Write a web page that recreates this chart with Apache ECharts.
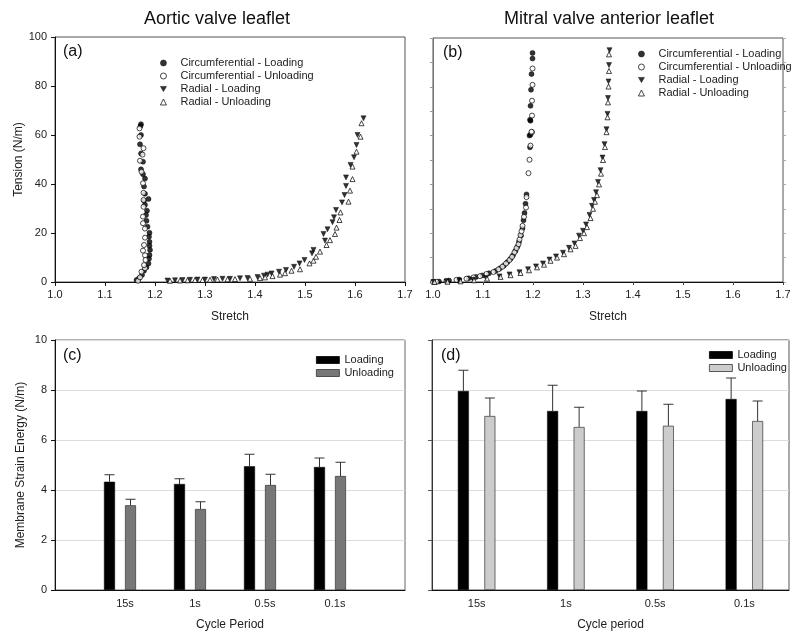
<!DOCTYPE html>
<html><head><meta charset="utf-8">
<script src="https://cdn.jsdelivr.net/npm/echarts@6/dist/echarts.min.js"></script>
<style>html,body{margin:0;padding:0;background:#fff}#c{width:800px;height:638px}</style>
</head><body><div id="c"></div>
<script>
// ---------- Panel (a): Aortic valve leaflet ----------
const aorticCircLoading = [[1.163,0.8],[1.168,1.5],[1.174,2.9],[1.178,4.6],[1.183,6.0],[1.187,7.6],[1.188,9.5],[1.189,11.0],[1.190,13.1],[1.189,14.8],[1.189,16.4],[1.188,18.5],[1.189,20.1],[1.185,22.6],[1.183,25.0],[1.182,27.3],[1.184,29.1],[1.180,31.5],[1.178,33.2],[1.187,33.9],[1.180,36.0],[1.178,39.0],[1.180,42.2],[1.176,44.0],[1.172,46.0],[1.176,49.1],[1.172,52.5],[1.170,56.2],[1.172,60.0],[1.171,63.7],[1.172,64.4]];
const aorticCircUnloading = [[1.166,0.5],[1.170,1.9],[1.173,4.2],[1.180,5.6],[1.178,6.9],[1.181,9.0],[1.180,10.9],[1.176,12.8],[1.178,15.1],[1.180,18.1],[1.180,21.8],[1.176,24.0],[1.176,26.7],[1.177,30.7],[1.177,33.5],[1.177,36.4],[1.176,40.3],[1.173,45.0],[1.170,49.5],[1.175,52.0],[1.177,54.6],[1.169,59.3],[1.169,62.7]];
const aorticRadLoading = [[1.225,0.6],[1.240,0.7],[1.255,0.8],[1.270,0.9],[1.285,1.0],[1.300,1.0],[1.318,1.2],[1.335,1.3],[1.350,1.3],[1.370,1.5],[1.385,1.6],[1.405,2.0],[1.418,2.6],[1.425,3.0],[1.433,3.5],[1.448,4.2],[1.462,4.9],[1.478,6.2],[1.489,7.6],[1.499,9.0],[1.514,11.7],[1.517,13.1],[1.537,19.6],[1.540,16.9],[1.545,21.5],[1.555,24.4],[1.558,26.4],[1.562,29.4],[1.574,32.5],[1.579,35.5],[1.582,39.2],[1.582,42.7],[1.591,47.8],[1.598,50.9],[1.603,55.9],[1.605,60.0],[1.617,66.8]];
const aorticRadUnloading = [[1.230,0.5],[1.250,0.6],[1.265,0.7],[1.280,0.8],[1.295,0.8],[1.310,0.9],[1.325,1.0],[1.345,1.1],[1.360,1.2],[1.390,1.3],[1.410,1.6],[1.420,1.9],[1.435,2.4],[1.450,3.0],[1.460,3.6],[1.473,4.6],[1.490,5.2],[1.509,7.6],[1.517,8.7],[1.522,10.3],[1.530,12.4],[1.543,15.1],[1.550,17.1],[1.560,19.6],[1.563,22.2],[1.569,25.3],[1.571,28.4],[1.587,32.8],[1.590,37.3],[1.595,42.0],[1.595,47.1],[1.603,53.2],[1.611,59.3],[1.613,64.8]];

// ---------- Panel (b): Mitral valve anterior leaflet ----------
const mitralCircLoading = [[1.012,0.2],[1.032,0.6],[1.052,1.0],[1.071,1.5],[1.086,2.1],[1.099,2.7],[1.112,3.6],[1.125,4.5],[1.134,5.6],[1.142,6.8],[1.149,8.2],[1.155,9.5],[1.160,11.0],[1.165,12.8],[1.169,14.5],[1.172,16.5],[1.176,19.0],[1.179,22.0],[1.181,25.3],[1.183,28.3],[1.185,32.1],[1.187,35.9],[1.193,60.0],[1.194,55.2],[1.195,60.4],[1.195,66.1],[1.194,66.5],[1.195,72.2],[1.196,78.8],[1.197,85.2],[1.199,91.6],[1.199,93.9]];
const mitralCircUnloading = [[1.000,0.0],[1.007,0.1],[1.027,0.5],[1.047,0.9],[1.067,1.35],[1.081,1.9],[1.094,2.4],[1.107,3.3],[1.121,4.1],[1.131,5.2],[1.139,6.3],[1.146,7.6],[1.153,9.0],[1.158,10.3],[1.163,12.2],[1.167,13.9],[1.171,15.5],[1.173,17.4],[1.175,19.2],[1.177,20.8],[1.179,23.0],[1.182,26.7],[1.186,30.5],[1.187,34.8],[1.191,44.6],[1.193,50.1],[1.195,55.9],[1.198,61.4],[1.197,61.6],[1.198,68.2],[1.198,74.3],[1.199,80.8],[1.199,87.5]];
const mitralRadLoading = [[1.001,0.0],[1.027,0.2],[1.053,0.5],[1.080,0.9],[1.106,1.6],[1.133,2.3],[1.153,3.1],[1.173,4.0],[1.190,5.2],[1.206,6.4],[1.220,7.6],[1.233,9.2],[1.246,10.5],[1.260,12.0],[1.272,14.0],[1.283,15.8],[1.292,19.0],[1.300,21.0],[1.306,23.6],[1.313,27.5],[1.318,31.2],[1.322,33.6],[1.326,36.8],[1.330,41.0],[1.335,45.8],[1.339,51.0],[1.343,56.5],[1.347,62.6],[1.349,68.9],[1.350,75.4],[1.351,82.2],[1.352,88.9],[1.353,95.0]];
const mitralRadUnloading = [[1.003,0.0],[1.029,0.1],[1.055,0.3],[1.082,0.7],[1.108,1.4],[1.135,2.1],[1.155,2.8],[1.175,3.7],[1.192,4.8],[1.208,6.0],[1.222,7.1],[1.235,8.7],[1.248,10.0],[1.262,11.4],[1.275,13.4],[1.285,14.8],[1.294,18.0],[1.302,20.0],[1.308,22.5],[1.315,26.2],[1.320,30.0],[1.324,32.9],[1.328,35.6],[1.332,40.0],[1.336,44.4],[1.340,50.0],[1.344,55.3],[1.347,61.4],[1.349,67.5],[1.350,73.6],[1.351,80.1],[1.352,86.5],[1.352,93.3]];

// ---------- Panels (c),(d): Membrane strain energy ----------
const cycleLabels = ['15s', '1s', '0.5s', '0.1s'];
const aorticEnergyLoading = [4.33, 4.24, 4.95, 4.92];
const aorticEnergyLoadingSD = [0.28, 0.21, 0.48, 0.36];
const aorticEnergyUnloading = [3.39, 3.24, 4.20, 4.56];
const aorticEnergyUnloadingSD = [0.24, 0.29, 0.43, 0.55];
const mitralEnergyLoading = [7.96, 7.16, 7.16, 7.64];
const mitralEnergyLoadingSD = [0.83, 1.03, 0.80, 0.84];
const mitralEnergyUnloading = [6.96, 6.52, 6.57, 6.76];
const mitralEnergyUnloadingSD = [0.72, 0.79, 0.86, 0.80];

const scatterNames = ['Circumferential - Loading', 'Circumferential - Unloading', 'Radial - Loading', 'Radial - Unloading'];
const FONT = '"Liberation Sans", Arial, sans-serif';
const TXT = '#222';

const chart = echarts.init(document.getElementById('c'), null, {renderer: 'canvas'});

const DOWN_TRI = 'path://M0,0 L10,0 L5,8.66 Z';
const scatterStyles = [
  {symbol: 'circle', symbolSize: 5, symbolRotate: 0, icon: 'circle', itemStyle: {color: '#000', borderColor: '#000', borderWidth: 0.6}},
  {symbol: 'circle', symbolSize: 5, symbolRotate: 0, icon: 'circle', itemStyle: {color: '#fff', borderColor: '#000', borderWidth: 0.9}},
  {symbol: 'triangle', symbolSize: 5, symbolRotate: 180, icon: DOWN_TRI, itemStyle: {color: '#000', borderColor: '#000', borderWidth: 0.6}},
  {symbol: 'triangle', symbolSize: 5, symbolRotate: 0, icon: 'triangle', itemStyle: {color: '#fff', borderColor: '#000', borderWidth: 0.9}}
];
function scatterSet(xi, data4) {
  return data4.map((d, k) => ({
    type: 'scatter', name: scatterNames[k], xAxisIndex: xi, yAxisIndex: xi,
    data: d, silent: true, animation: false, symbolKeepAspect: true,
    symbol: scatterStyles[k].symbol, symbolSize: scatterStyles[k].symbolSize,
    symbolRotate: scatterStyles[k].symbolRotate, itemStyle: scatterStyles[k].itemStyle
  }));
}
function scatterLegend(left, top) {
  return {
    data: scatterNames.map((n, k) => ({name: n, icon: scatterStyles[k].icon, symbolRotate: 0,
      itemStyle: scatterStyles[k].itemStyle})),
    left: left, top: top, padding: 0, orient: 'vertical', itemWidth: 6, itemHeight: 6, itemGap: 1, selectedMode: false,
    symbolKeepAspect: true,
    textStyle: {color: TXT, fontSize: 11, fontFamily: FONT, lineHeight: 12, padding: [0, 0, 0, 9]}
  };
}

const padCats = [''].concat(cycleLabels).concat(['']);
function padded(arr) { return ['-'].concat(arr).concat(['-']); }

function errorBars(xi, yi, means, sds, offset, startIndex) {
  return {
    type: 'custom', xAxisIndex: xi, yAxisIndex: yi, silent: true, animation: false, z: 3,
    data: means.map((m, i) => [i + startIndex, m, m + sds[i]]),
    renderItem: function (params, api) {
      const base = api.coord([api.value(0), api.value(1)]);
      const top = api.coord([api.value(0), api.value(2)]);
      const cx = base[0] + offset;
      const st = {stroke: '#333', lineWidth: 1};
      return {type: 'group', children: [
        {type: 'line', shape: {x1: cx, y1: base[1], x2: cx, y2: top[1]}, style: st},
        {type: 'line', shape: {x1: cx - 5, y1: top[1], x2: cx + 5, y2: top[1]}, style: st}
      ]};
    }
  };
}

const axisLbl = {color: TXT, fontSize: 11, fontFamily: FONT};
const nameStyle = {color: TXT, fontSize: 12, fontFamily: FONT};
function barLegend(left, top, unloadColor) {
  return {data: [{name: 'Loading', icon: 'rect', itemStyle: {color: '#000', borderColor: '#000', borderWidth: 0.8}},
                 {name: 'Unloading', icon: 'rect', itemStyle: {color: unloadColor, borderColor: '#333', borderWidth: 0.8}}],
    left: left, top: top, padding: 0, orient: 'vertical', itemWidth: 23, itemHeight: 7, itemGap: 1, selectedMode: false,
    textStyle: {color: TXT, fontSize: 11, fontFamily: FONT, lineHeight: 12}};
}

const option = {
  animation: false,
  textStyle: {fontFamily: FONT},
  title: [
    {text: 'Aortic valve leaflet', left: 212, top: 5, textAlign: 'center', textStyle: {fontSize: 18, fontWeight: 'normal', color: '#111', fontFamily: FONT}},
    {text: 'Mitral valve anterior leaflet', left: 604, top: 5, textAlign: 'center', textStyle: {fontSize: 18, fontWeight: 'normal', color: '#111', fontFamily: FONT}}
  ],
  grid: [
    {left: 55, right: 395, top: 37, bottom: 356, show: true, borderColor: '#555', borderWidth: 1},
    {left: 433, right: 17, top: 38, bottom: 356, show: true, borderColor: '#555', borderWidth: 1},
    {left: 55, right: 395, top: 340, bottom: 48, show: true, borderColor: '#666', borderWidth: 1},
    {left: 432, right: 11, top: 340, bottom: 48, show: true, borderColor: '#555', borderWidth: 1},
    {left: 50, right: 400, top: 340, bottom: 48, show: false}
  ],
  xAxis: [
    {gridIndex: 0, type: 'value', min: 1.0, max: 1.7, interval: 0.1, name: 'Stretch', nameLocation: 'middle', nameGap: 29, nameTextStyle: nameStyle,
      axisLine: {lineStyle: {color: '#111'}}, axisTick: {length: 4, lineStyle: {color: '#111'}}, splitLine: {show: false},
      axisLabel: Object.assign({margin: 7, formatter: v => v.toFixed(1)}, axisLbl)},
    {gridIndex: 1, type: 'value', min: 1.0, max: 1.7, interval: 0.1, name: 'Stretch', nameLocation: 'middle', nameGap: 29, nameTextStyle: nameStyle,
      axisLine: {lineStyle: {color: '#111'}}, axisTick: {length: 3, lineStyle: {color: '#444'}}, splitLine: {show: false},
      axisLabel: Object.assign({margin: 7, formatter: v => v.toFixed(1)}, axisLbl)},
    {gridIndex: 2, type: 'category', data: padCats, boundaryGap: false, name: 'Cycle Period', nameLocation: 'middle', nameGap: 29, nameTextStyle: nameStyle,
      axisLine: {lineStyle: {color: '#111'}}, axisTick: {show: false}, splitLine: {show: false},
      axisLabel: Object.assign({margin: 8, interval: 0}, axisLbl)},
    {gridIndex: 3, type: 'category', data: cycleLabels, boundaryGap: true, name: 'Cycle period', nameLocation: 'middle', nameGap: 29, nameTextStyle: nameStyle,
      axisLine: {lineStyle: {color: '#111'}}, axisTick: {show: false}, splitLine: {show: false},
      axisLabel: Object.assign({margin: 8, interval: 0}, axisLbl)},
    {gridIndex: 4, type: 'category', data: padCats, boundaryGap: false, show: false}
  ],
  yAxis: [
    {gridIndex: 0, type: 'value', min: 0, max: 100, interval: 20, name: 'Tension (N/m)', nameLocation: 'middle', nameGap: 29, nameTextStyle: nameStyle,
      axisLine: {show: true, lineStyle: {color: '#111'}}, axisTick: {show: true, length: 4, lineStyle: {color: '#111'}}, splitLine: {show: false},
      axisLabel: Object.assign({margin: 8}, axisLbl)},
    {gridIndex: 1, type: 'value', min: 0, max: 100, interval: 10,
      axisLine: {show: true, lineStyle: {color: '#777'}}, axisTick: {show: true, length: 3, lineStyle: {color: '#999'}}, splitLine: {show: false},
      axisLabel: {show: false}},
    {gridIndex: 2, type: 'value', min: 0, max: 10, interval: 2, name: 'Membrane Strain Energy (N/m)', nameLocation: 'middle', nameGap: 28, nameTextStyle: nameStyle,
      axisLine: {show: true, lineStyle: {color: '#111'}}, axisTick: {show: true, length: 4, lineStyle: {color: '#111'}},
      splitLine: {show: true, lineStyle: {color: '#dcdcdc', width: 1}},
      axisLabel: Object.assign({margin: 8}, axisLbl)},
    {gridIndex: 3, type: 'value', min: 0, max: 10, interval: 2,
      axisLine: {show: true, lineStyle: {color: '#333'}}, axisTick: {show: true, length: 4, lineStyle: {color: '#555'}},
      splitLine: {show: true, lineStyle: {color: '#dcdcdc', width: 1}},
      axisLabel: {show: false}},
    {gridIndex: 4, type: 'value', min: 0, max: 10, interval: 2, show: false, splitLine: {show: false}},
    {gridIndex: 1, type: 'value', min: 0, max: 100, interval: 10, position: 'right',
      axisLine: {show: false}, axisTick: {show: true, length: 3, lineStyle: {color: '#aaa'}}, splitLine: {show: false}, axisLabel: {show: false}}
  ],
  legend: [
    scatterLegend(160, 57),
    scatterLegend(638, 48),
    barLegend(316, 354, '#777'),
    barLegend(709, 349, '#ccc')
  ],
  graphic: [
    {type: 'text', left: 63, top: 44, style: {text: '(a)', font: '16px ' + FONT, fill: '#111'}},
    {type: 'text', left: 443, top: 45, style: {text: '(b)', font: '16px ' + FONT, fill: '#111'}},
    {type: 'text', left: 63, top: 348, style: {text: '(c)', font: '16px ' + FONT, fill: '#111'}},
    {type: 'text', left: 441, top: 348, style: {text: '(d)', font: '16px ' + FONT, fill: '#111'}}
  ],
  series: []
};

option.series = option.series
  .concat(scatterSet(0, [aorticCircLoading, aorticCircUnloading, aorticRadLoading, aorticRadUnloading]))
  .concat(scatterSet(1, [mitralCircLoading, mitralCircUnloading, mitralRadLoading, mitralRadUnloading]));

// (c) aortic bars (drawn on the helper grid 4)
option.series.push(
  {type: 'bar', name: 'Loading', xAxisIndex: 4, yAxisIndex: 4, data: padded(aorticEnergyLoading), barWidth: 11, barGap: '91%',
    itemStyle: {color: '#000', borderColor: '#000', borderWidth: 0.5}, silent: true},
  {type: 'bar', name: 'Unloading', xAxisIndex: 4, yAxisIndex: 4, data: padded(aorticEnergyUnloading), barWidth: 11, barGap: '91%',
    itemStyle: {color: '#777', borderColor: '#333', borderWidth: 0.7}, silent: true},
  errorBars(4, 4, aorticEnergyLoading, aorticEnergyLoadingSD, -10.5, 1),
  errorBars(4, 4, aorticEnergyUnloading, aorticEnergyUnloadingSD, 10.5, 1)
);
// (d) mitral bars
option.series.push(
  {type: 'bar', name: 'Loading', xAxisIndex: 3, yAxisIndex: 3, data: mitralEnergyLoading, barWidth: 11, barGap: '141%',
    itemStyle: {color: '#000', borderColor: '#000', borderWidth: 0.5}, silent: true},
  {type: 'bar', name: 'Unloading', xAxisIndex: 3, yAxisIndex: 3, data: mitralEnergyUnloading, barWidth: 11, barGap: '141%',
    itemStyle: {color: '#ccc', borderColor: '#333', borderWidth: 0.7}, silent: true},
  errorBars(3, 3, mitralEnergyLoading, mitralEnergyLoadingSD, -13.25, 0),
  errorBars(3, 3, mitralEnergyUnloading, mitralEnergyUnloadingSD, 13.25, 0)
);

chart.setOption(option);
</script>
</body></html>
